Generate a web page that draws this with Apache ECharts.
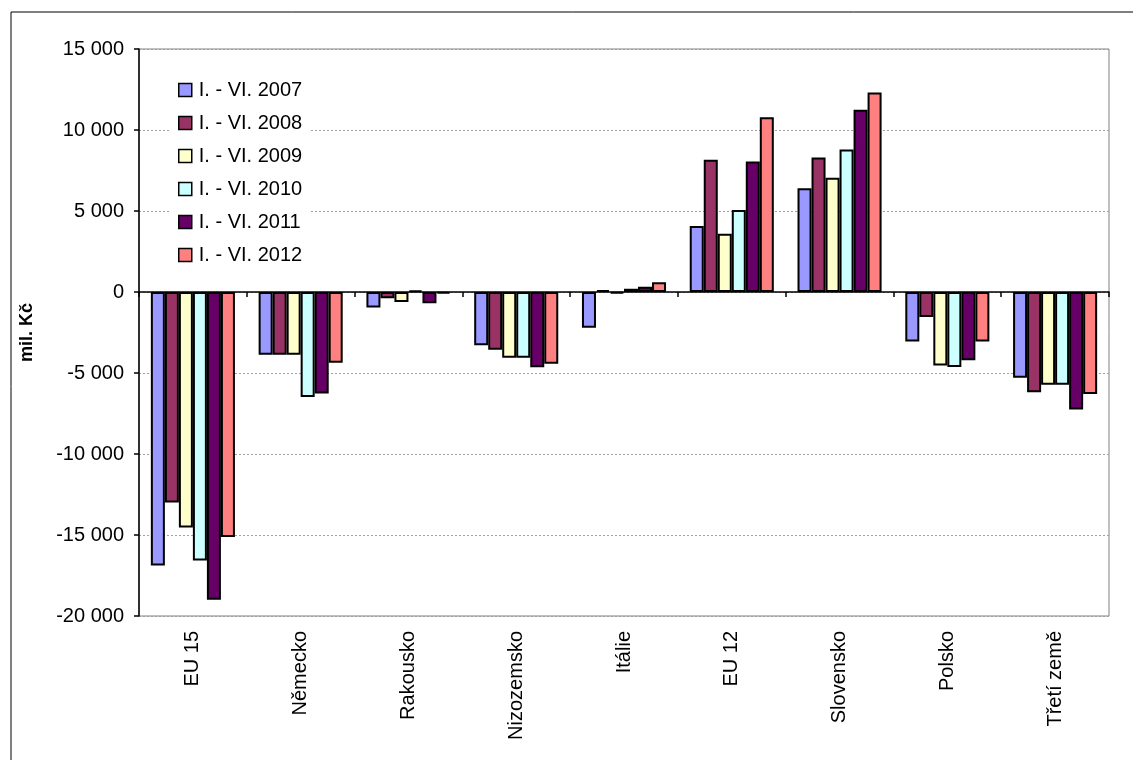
<!DOCTYPE html>
<html>
<head>
<meta charset="utf-8">
<script src="https://cdn.jsdelivr.net/npm/echarts@6/dist/echarts.min.js"></script>
<style>
html,body{margin:0;padding:0;background:#fff;}
#c{width:1133px;height:760px;}
</style>
</head>
<body>
<div id="c"></div>
<script>
var categories = ['EU 15','Německo','Rakousko','Nizozemsko','Itálie','EU 12','Slovensko','Polsko','Třetí země'];
var seriesNames = ['I. - VI. 2007','I. - VI. 2008','I. - VI. 2009','I. - VI. 2010','I. - VI. 2011','I. - VI. 2012'];
var v2007 = [-16890, -3870, -960, -3280, -2210, 4080, 6400, -3060, -5300];
var v2008 = [-12990, -3870, -380, -3570, 120, 8160, 8300, -1540, -6190];
var v2009 = [-14530, -3870, -620, -4060, -80, 3590, 7050, -4530, -5720];
var v2010 = [-16580, -6480, 100, -4060, 200, 5060, 8800, -4630, -5720];
var v2011 = [-19000, -6260, -700, -4650, 330, 8060, 11250, -4220, -7260];
var v2012 = [-15120, -4360, -100, -4430, 600, 10780, 12320, -3060, -6290];
var seriesValues = [v2007, v2008, v2009, v2010, v2011, v2012];
var colors = ['#9999FF','#993366','#FFFFCC','#CCFFFF','#660066','#FF8080'];

var FONT = 'Liberation Sans, Arial, sans-serif';
function fmt(v){
  var s = Math.abs(v).toString();
  var out = s.replace(/\B(?=(\d{3})+(?!\d))/g, ' ');
  return (v < 0 ? '-' : '') + out;
}

var chart = echarts.init(document.getElementById('c'));
var series = seriesNames.map(function(n, i){
  return {
    name: n,
    type: 'bar',
    xAxisIndex: 0,
    data: seriesValues[i],
    barGap: '0%',
    barCategoryGap: '22%',
    itemStyle: {color: colors[i], borderColor: '#000', borderWidth: 2},
    emphasis: {disabled: true}
  };
});

chart.setOption({
  animation: false,
  backgroundColor: '#fff',
  graphic: [{
    type: 'rect',
    shape: {x: 11, y: 12, width: 1140, height: 800},
    style: {fill: 'none', stroke: '#000', lineWidth: 1},
    silent: true
  }],
  grid: {left: 139, right: 24, top: 49, bottom: 144, show: true, borderColor: '#808080', borderWidth: 1, backgroundColor: 'transparent'},
  legend: {
    orient: 'vertical',
    left: 170,
    top: 75,
    padding: [5, 8],
    itemWidth: 13,
    itemHeight: 13,
    itemGap: 13,
    icon: 'rect',
    backgroundColor: '#fff',
    data: seriesNames,
    itemStyle: {borderColor: '#000', borderWidth: 1.5},
    textStyle: {fontFamily: FONT, fontSize: 20, color: '#000', lineHeight: 19, padding: [0, 0, 0, 2]}
  },
  xAxis: [{
    type: 'category',
    data: categories,
    position: 'bottom',
    axisLine: {show: false, onZero: false},
    axisTick: {show: false},
    axisLabel: {rotate: 90, margin: 15, fontFamily: FONT, fontSize: 20, color: '#000', interval: 0},
    splitLine: {show: false}
  }, {
    type: 'category',
    data: categories,
    position: 'bottom',
    axisLine: {show: true, onZero: true, lineStyle: {color: '#000', width: 1.5}},
    axisTick: {show: true, inside: false, length: 5, alignWithLabel: false, interval: 0, lineStyle: {color: '#000', width: 1.5}},
    axisLabel: {show: false},
    splitLine: {show: false}
  }],
  yAxis: {
    type: 'value',
    min: -20000,
    max: 15000,
    interval: 5000,
    name: 'mil. Kč',
    nameLocation: 'middle',
    nameRotate: 90,
    nameGap: 103,
    nameTextStyle: {fontFamily: FONT, fontSize: 18, fontWeight: 'bold', color: '#000'},
    axisLine: {show: true, lineStyle: {color: '#000', width: 1.5}},
    axisTick: {show: true, inside: false, length: 5, lineStyle: {color: '#000', width: 1.5}},
    axisLabel: {margin: 15, fontFamily: FONT, fontSize: 20, color: '#000', formatter: fmt},
    splitLine: {show: true, lineStyle: {color: '#a0a0a0', type: [2, 2], width: 1}}
  },
  series: series
});
</script>
</body>
</html>
